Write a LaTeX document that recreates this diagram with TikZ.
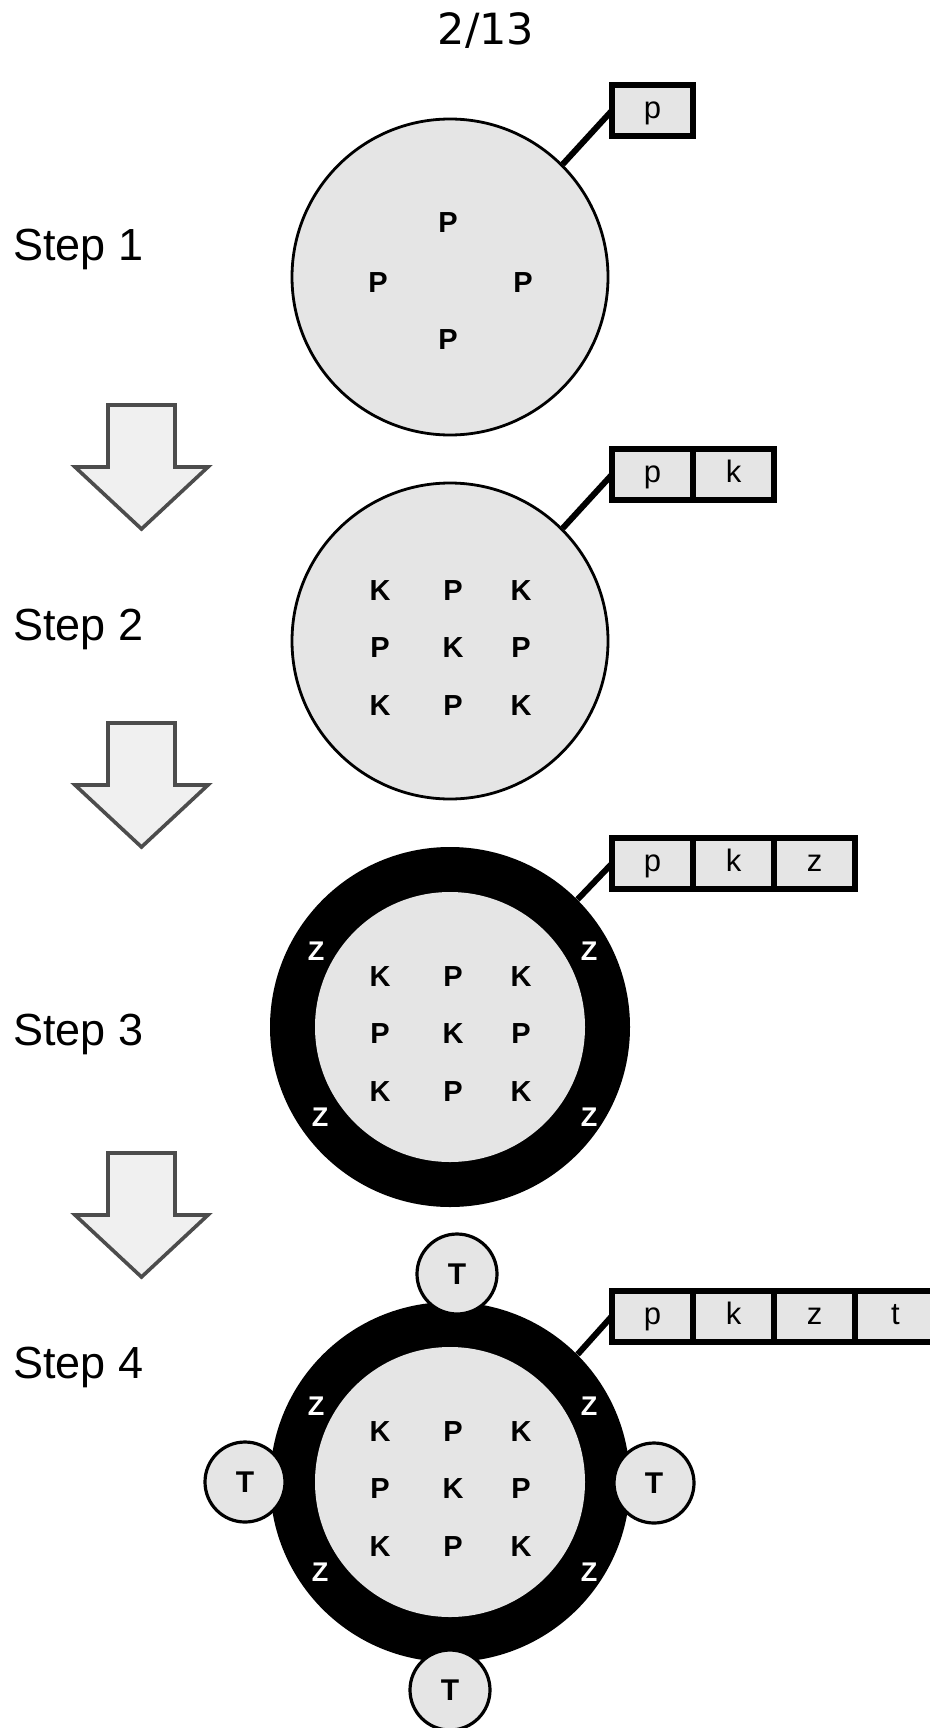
\documentclass[tikz,border=0pt]{standalone}
\usepackage{fontspec}
\setmainfont{Liberation Sans}
\newfontfamily\pagefont{DejaVu Sans}
\usetikzlibrary{positioning}
\definecolor{dotgray}{gray}{0.9}
\definecolor{arrowfill}{gray}{0.94}
\definecolor{arrowline}{gray}{0.3}
\tikzset{
  disc/.style={circle, draw, line width=1.4pt, fill=dotgray, inner sep=0pt, minimum size=158pt},
  ring/.style={circle, fill=black, inner sep=0pt, minimum size=180pt},
  hole/.style={circle, fill=dotgray, inner sep=0pt, minimum size=135pt},
  letter/.style={inner sep=0pt, font=\bfseries\fontsize{14.5}{14.5}\selectfont},
  zletter/.style={letter, text=white, font=\bfseries\fontsize{13.5}{13.5}\selectfont},
  tag/.style={circle, draw, line width=1.6pt, fill=dotgray, inner sep=0pt, minimum size=40pt,
    font=\bfseries\fontsize{15}{15}\selectfont},
  cell/.style={draw, line width=3pt, fill=dotgray, inner sep=0pt, outer sep=0pt,
    minimum width=40.5pt, minimum height=25.5pt, text height=11pt, text depth=3pt,
    font=\fontsize{15.5}{15.5}\selectfont},
  link/.style={line width=3pt},
  steplabel/.style={inner sep=0pt, anchor=base west, font=\fontsize{22.5}{22.5}\selectfont},
  blockarrow/.style={draw=arrowline, line width=1.8pt, fill=arrowfill, line join=miter}
}

\begin{document}
\begin{tikzpicture}[x=0.5pt, y=-0.5pt]
  \path[use as bounding box] (0,0) rectangle (930,1728);
  \clip (0,0) rectangle (930,1728);
  \fill[white] (0,0) rectangle (930,1728);

  \node[anchor=base, font=\pagefont\fontsize{21.5}{21.5}\selectfont] (pagenum) at (486,45) {2/13};

  % step labels and arrows
  \node[steplabel] (s1) at (13,261) {Step 1};
  \node[steplabel] (s2) at (13,640) {Step 2};
  \node[steplabel] (s3) at (13,1045) {Step 3};
  \node[steplabel] (s4) at (13,1378) {Step 4};
  \foreach \t in {405,723,1153}
    \draw[blockarrow] (108,\t) -- (175,\t) -- (175,\t+62) -- (208,\t+62) -- (141.5,\t+124)
      -- (75,\t+62) -- (108,\t+62) -- cycle;

  % cells
  \node[disc] (c1) at (450,277) {};
  \node[disc] (c2) at (450,641) {};
  \node[ring] (c3) at (450,1027) {};
  \node[hole] (c3in) at (c3) {};
  \node[ring] (c4) at (450,1482) {};
  \node[hole] (c4in) at (c4) {};

  % step 1 letters
  \foreach \dx/\dy [count=\i] in {-2/-54, -72/6, 73/6, -2/63}
    \node[letter] (p1-\i) at ([shift={(\dx,\dy)}]c1) {P};
  % K/P grid
  \foreach \s in {2,3,4}
    \foreach \dx/\dy/\l [count=\i] in {-70/-50/K, 3/-50/P, 71/-50/K, -70/7/P, 3/7/K, 71/7/P,
                                       -70/65/K, 3/65/P, 71/65/K}
      \node[letter] (g\s-\i) at ([shift={(\dx,\dy)}]c\s) {\l};
  % Z on the ring
  \foreach \s in {3,4}
    \foreach \dx/\dy [count=\i] in {-134/-76, 139/-76, -130/90, 139/90}
      \node[zletter] (z\s-\i) at ([shift={(\dx,\dy)}]c\s) {Z};

  % T around step 4
  \node[tag] (tn) at (457,1274) {T};
  \node[tag] (tw) at (245,1482) {T};
  \node[tag] (te) at (654,1483) {T};
  \node[tag] (ts) at (450,1690) {T};

  % boxes
  \node[cell] (b1p) at (652.5,110.5) {p};

  \node[cell] (b2p) at (652.5,474.5) {p};
  \node[cell, right=0pt of b2p] (b2k) {k};

  \node[cell] (b3p) at (652.5,863.5) {p};
  \node[cell, right=0pt of b3p] (b3k) {k};
  \node[cell, right=0pt of b3k] (b3z) {z};

  \node[cell] (b4p) at (652.5,1316) {p};
  \node[cell, right=0pt of b4p] (b4k) {k};
  \node[cell, right=0pt of b4k] (b4z) {z};
  \node[cell, right=0pt of b4z] (b4t) {t};

  \draw[link] (c1.north east) -- (b1p.west);
  \draw[link] (c2.north east) -- (b2p.west);
  \draw[link] (c3.north east) -- (b3p.west);
  \draw[link] (c4.north east) -- (b4p.west);
\end{tikzpicture}
\end{document}
